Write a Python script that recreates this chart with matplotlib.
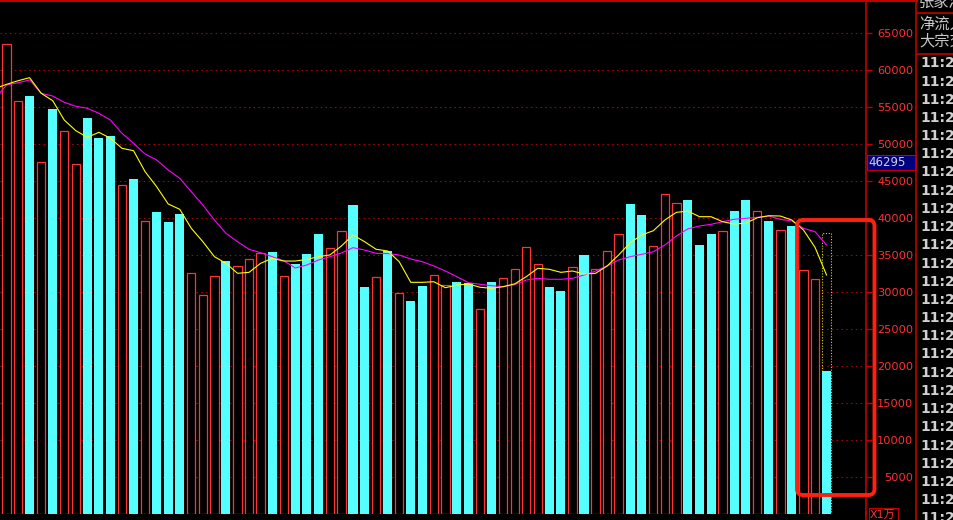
import numpy as np
import matplotlib
matplotlib.use("Agg")
import matplotlib.pyplot as plt
from matplotlib.patches import FancyBboxPatch, Rectangle
from matplotlib.lines import Line2D
from matplotlib.transforms import Affine2D

plt.rcParams['font.family'] = ['DejaVu Sans', 'Noto Sans CJK SC']

# ---------------- data ----------------
# 'r' = red hollow bar, 'c' = cyan filled bar
kind = list("rrcrcrrccc" "rcrcccrrrc" "rrrcrcccrr" "ccrcrccrrc"
            "crcrrrrccr" "crrrccrrrc" "ccrccrcrcr" "rc")

vol = [63500, 55850, 56500, 47550, 54750, 51800, 47300, 53550, 50850, 51100,
       44450, 45300, 39600, 40850, 39450, 40550, 32550, 29550, 32100, 34200,
       33500, 34400, 35250, 35400, 32100, 33800, 35150, 37850, 35900, 38250,
       41750, 30700, 32000, 35550, 29800, 28800, 30800, 32250, 30900, 31350,
       31200, 27650, 31350, 31900, 33100, 36050, 33800, 30700, 30150, 33350,
       35000, 33050, 35500, 37800, 41900, 40400, 36200, 43200, 42000, 42450,
       36350, 37850, 38250, 40950, 42450, 40950, 39600, 38400, 38950, 33000,
       31750, 19300]

last_outline = 37950   # dotted outline of the bar still forming

ma_short_start = 57780
ma_short = [58100, 58590, 59000, 56890, 55890, 53270, 51830, 50930, 51610, 50800,
            49440, 49120, 46280, 44250, 41910, 41190, 38620, 36810, 34780, 33880,
            32530, 32660, 33880, 34560, 34190, 34190, 34420, 34780, 35010, 36230,
            37720, 36810, 35780, 35550, 34100, 31310, 31310, 31390, 30580, 30950,
            31080, 30640, 30500, 30720, 31100, 32070, 33210, 33070, 32660, 32840,
            32440, 32530, 33520, 35010, 36670, 37720, 38290, 39740, 40780, 40950,
            40190, 40190, 39510, 39200, 39300, 40050, 40320, 40280, 39740, 38390,
            36050, 32300]

ma_long_start = 56970
ma_long = [58010, 58320, 58690, 56890, 56520, 55670, 55130, 54860, 54180, 53270,
           51470, 50120, 48670, 47860, 46510, 45390, 43570, 41770, 39740, 37940,
           36810, 35780, 35320, 34780, 34240, 33250, 33650, 34330, 34780, 35280,
           36000, 35680, 35230, 35200, 35010, 34470, 34100, 33520, 32840, 32070,
           31260, 31040, 30850, 30720, 31000, 31620, 31850, 31720, 31720, 31850,
           32300, 32840, 33520, 34330, 34780, 35100, 35450, 36360, 37580, 38550,
           38930, 39160, 39510, 39840, 39970, 40110, 40280, 39840, 39610, 38620,
           38160, 36360]

yticks = list(range(5000, 65001, 5000))
cursor_value = "46295"
times = ["11:27"] * 2 + ["11:28"] * 12 + ["11:29"] * 12
header = ["张家港行", "净流入", "大宗交易"]

# ---------------- figure ----------------
W, H = 954, 520
fig = plt.figure(figsize=(W / 100, H / 100), dpi=100, facecolor='black')
px = Affine2D().scale(1.0 / W, 1.0 / H) + fig.transFigure   # pixel coords, y from bottom

ax = fig.add_axes([0, 1 - 513.7 / H, 866 / W, 513.7 / H])
ax.set_facecolor('black')
step = 11.55
ax.set_xlim(-6.5 / step, (866 - 6.5) / step)
ax.set_ylim(0, 513.7 / 7.39 * 1000)

x = np.arange(len(vol))
v = np.array(vol)
is_c = np.array([k == 'c' for k in kind])

ax.bar(x[-1], last_outline, width=0.74, fill=False, edgecolor='#d8d800',
       linestyle=(0, (1, 1.5)), lw=0.8, zorder=2)
ax.bar(x[is_c], v[is_c], width=0.78, color='#55ffff', lw=0, zorder=3)
ax.bar(x[~is_c], v[~is_c], width=0.72, facecolor='black', edgecolor='#ff3333',
       lw=0.9, zorder=3)

xl = np.concatenate([[-0.56], x])
ax.plot(xl, [ma_long_start] + ma_long, color='#ff00ff', lw=0.8, zorder=4)
ax.plot(xl, [ma_short_start] + ma_short, color='#ffff00', lw=0.8, zorder=5)

ax.set_yticks(yticks)
ax.set_yticklabels([str(t) for t in yticks])
ax.yaxis.tick_right()
ax.tick_params(axis='y', colors='#c00000', labelcolor='#ff3030', length=4,
               width=1, labelsize=8.2, pad=30)
for lab in ax.get_yticklabels():
    lab.set_ha('right')
ax.set_xticks([])
ax.grid(axis='y', color='#b00000', linestyle=(0, (1.4, 2.9)), lw=0.8)
ax.set_axisbelow(True)
for s in ['left', 'bottom']:
    ax.spines[s].set_visible(False)
ax.spines['right'].set_color('#c00000')
ax.spines['right'].set_linewidth(1.2)
ax.spines['top'].set_color('#c00000')
ax.spines['top'].set_linewidth(1.5)

# frame lines
fig.add_artist(Line2D([866.5, 866.5], [0, 8], transform=px, color='#c00000', lw=1.2))
fig.add_artist(Line2D([916.5, 916.5], [0, H], transform=px, color='#c00000', lw=1.2))
fig.add_artist(Line2D([0, 917], [H - 0.7, H - 0.7], transform=px, color='#c00000', lw=1.5))
fig.add_artist(Line2D([917, W], [H - 12.7, H - 12.7], transform=px, color='#c00000', lw=1.2))
fig.add_artist(Line2D([917, W], [H - 54, H - 54], transform=px, color='#c00000', lw=1.2))

# cursor value box
fig.add_artist(Rectangle((867, H - 170), 49, 15, transform=px, facecolor='#000080',
                         edgecolor='#c00000', lw=0.8))
fig.text(868, H - 162.5, cursor_value, transform=px, color='#d0d0e0', fontsize=8.5,
         va='center', ha='left')

# unit box
fig.add_artist(Rectangle((869, 0), 29, 12, transform=px, facecolor='none',
                         edgecolor='#c00000', lw=0.8))
fig.text(870, 5, "X1万", transform=px, color='#ff3030', fontsize=8,
         va='center', ha='left')

# highlight rectangle
fig.add_artist(FancyBboxPatch((797, 25), 77.5, 275, transform=px,
                              boxstyle='round,pad=0,rounding_size=6',
                              facecolor='none', edgecolor='#ff2010', lw=2.8))

# right panel text
hy = [2, 24.5, 41]
for t, yy in zip(header, hy):
    fig.text(919, H - yy, t, transform=px, color='#c8c8c8', fontsize=11,
             va='center', ha='left')
for i, t in enumerate(times):
    fig.text(920, H - (63.3 + 18.2 * i), t, transform=px, color='#d0d0d0',
             fontsize=10, fontweight='bold', va='center', ha='left')

fig.savefig("out.png", dpi=100, facecolor='black')
